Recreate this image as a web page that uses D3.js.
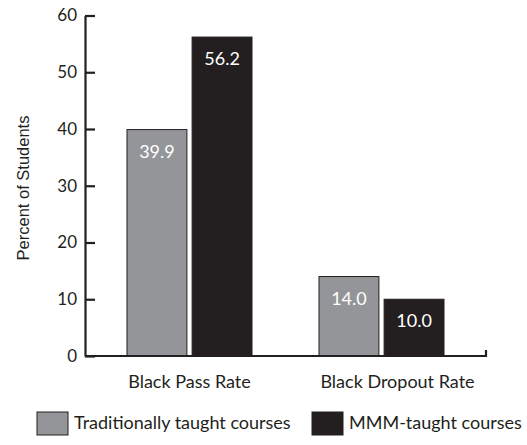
<!DOCTYPE html>
<html>
<head>
<meta charset="utf-8">
<script src="https://cdn.jsdelivr.net/npm/d3@7"></script>
<style>
  html, body { margin: 0; padding: 0; background: #fff; }
  svg { display: block; }
  .lbl { font-family: Lato, "Open Sans", sans-serif; fill: #231f20; }
</style>
</head>
<body>
<svg id="chart" width="527" height="445"></svg>
<script>
// Pass and dropout rates for Black students, by teaching approach
const categories = ["Black Pass Rate", "Black Dropout Rate"];
const seriesNames = ["Traditionally taught courses", "MMM-taught courses"];
const traditional = [39.9, 14.0];
const mmm = [56.2, 10.0];
const yTicks = [0, 10, 20, 30, 40, 50, 60];
const colors = ["#939598", "#231f20"];

const rows = categories.map((c, i) => ({ category: c, values: [traditional[i], mmm[i]] }));

const svg = d3.select("#chart");
const axisX0 = 85, axisX1 = 486;

const y = d3.scaleLinear().domain([0, 60]).range([356, 15.5]);
const x0 = d3.scaleBand().domain(categories).range([60, 511]).paddingInner(0.349).paddingOuter(0.349);
const x1 = d3.scaleBand().domain(d3.range(seriesNames.length)).range([0, x0.bandwidth()]).paddingInner(0.08);

// Bars
const groups = svg.selectAll("g.grp").data(rows).join("g")
  .attr("class", "grp")
  .attr("transform", d => `translate(${x0(d.category)},0)`);

groups.selectAll("rect").data(d => d.values.map((v, i) => ({ v, i }))).join("rect")
  .attr("x", d => x1(d.i))
  .attr("y", d => y(d.v))
  .attr("width", x1.bandwidth())
  .attr("height", d => y(0) - y(d.v))
  .attr("fill", d => colors[d.i])
  .attr("stroke", "#231f20")
  .attr("stroke-width", 1);

// Value labels inside the bars
groups.selectAll("text.val").data(d => d.values.map((v, i) => ({ v, i }))).join("text")
  .attr("class", "val")
  .attr("x", d => x1(d.i) + x1.bandwidth() / 2)
  .attr("y", d => y(d.v) + 28)
  .attr("text-anchor", "middle")
  .style("font-family", "Lato, 'Open Sans', sans-serif")
  .style("font-size", "18px")
  .attr("fill", "#fff")
  .text(d => d.v.toFixed(1));

// Y axis with inward ticks
const yAxis = d3.axisLeft(y).tickValues(yTicks).tickSizeInner(-10).tickSizeOuter(0).tickPadding(8);
const gy = svg.append("g").attr("transform", `translate(${axisX0},0)`).call(yAxis);
gy.select(".domain").attr("stroke", "#231f20").attr("stroke-width", 2.2);
gy.selectAll(".tick line").attr("stroke", "#231f20").attr("stroke-width", 2.2);
gy.selectAll(".tick text")
  .style("font-family", "Lato, 'Open Sans', sans-serif")
  .style("font-size", "17px")
  .attr("fill", "#231f20");

// X baseline with a short end tick
svg.append("path")
  .attr("d", `M${axisX0},${y(0)}H${axisX1}V${y(0) - 6}`)
  .attr("fill", "none")
  .attr("stroke", "#231f20")
  .attr("stroke-width", 2.2);

// Category labels
svg.selectAll("text.cat").data(categories).join("text")
  .attr("class", "cat lbl")
  .attr("x", (d, i) => x0(d) + x0.bandwidth() / 2 + (i === 1 ? 16 : 0))
  .attr("y", 388)
  .attr("text-anchor", "middle")
  .style("font-size", "18px")
  .text(d => d);

// Y axis title
svg.append("text")
  .attr("transform", `translate(29,188) rotate(-90)`)
  .attr("text-anchor", "middle")
  .style("font-family", "'Liberation Sans', Arial, sans-serif")
  .style("font-size", "16.5px")
  .attr("fill", "#231f20")
  .text("Percent of Students");

// Legend
const legendX = [37, 312];
const legend = svg.selectAll("g.leg").data(seriesNames).join("g")
  .attr("class", "leg")
  .attr("transform", (d, i) => `translate(${legendX[i]},412)`);
legend.append("rect")
  .attr("width", 31).attr("height", 23)
  .attr("fill", (d, i) => colors[i])
  .attr("stroke", "#231f20").attr("stroke-width", 1);
legend.append("text")
  .attr("class", "lbl")
  .attr("x", 37).attr("y", 17)
  .style("font-size", "18px")
  .text(d => d);
</script>
</body>
</html>
